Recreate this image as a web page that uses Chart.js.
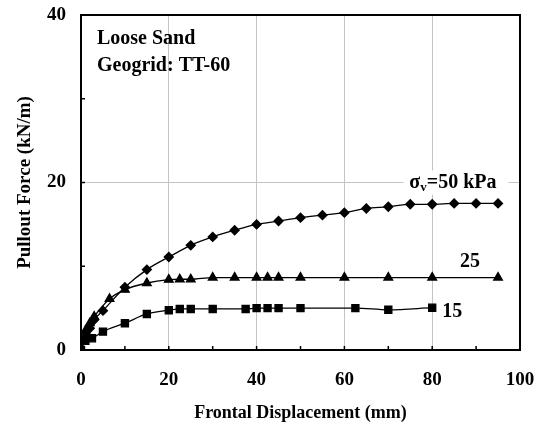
<!DOCTYPE html>
<html lang="en">
<head>
<meta charset="UTF-8">
<title>Pullout Force - Loose Sand</title>
<script src="https://cdn.jsdelivr.net/npm/chart.js"></script>
<style>
    html, body { margin: 0; padding: 0; background: #fff; }
    .chart-container { position: relative; width: 537px; height: 426px; }
</style>
</head>
<body>
<div class="chart-container">
    <canvas id="myChart"></canvas>
</div>
<script>
    // displacement (mm) and pullout force (kN/m)
    const disp50 = [0, 1, 2, 3, 5, 10, 15, 20, 25, 30, 35, 40, 45, 50, 55, 60, 65, 70, 75, 80, 85, 90, 95];
    const force50 = [0, 1.6, 2.6, 3.6, 4.7, 7.5, 9.6, 11.1, 12.5, 13.5, 14.3, 15.0, 15.4, 15.8, 16.1, 16.4, 16.9, 17.1, 17.4, 17.4, 17.5, 17.5, 17.5];

    const disp25 = [0, 1, 2, 3, 6.5, 10, 15, 20, 22.5, 25, 30, 35, 40, 42.5, 45, 50, 60, 70, 80, 95];
    const force25 = [0, 2.3, 3.2, 4.0, 6.1, 7.2, 8.0, 8.4, 8.45, 8.45, 8.65, 8.65, 8.65, 8.65, 8.65, 8.65, 8.65, 8.65, 8.65, 8.65];

    const disp15 = [0, 1, 2.5, 5, 10, 15, 20, 22.5, 25, 30, 37.5, 40, 42.5, 45, 50, 62.5, 70, 80];
    const force15 = [0, 1.1, 1.4, 2.2, 3.2, 4.3, 4.75, 4.9, 4.9, 4.9, 4.9, 5.0, 5.0, 5.0, 5.0, 5.0, 4.8, 5.05];

    const xTicks = [0, 20, 40, 60, 80, 100];
    const yTicks = [0, 20, 40];

    const FONT = '"Liberation Serif", "Times New Roman", serif';

    const toPoints = (xs, ys) => xs.map((x, i) => ({ x: x, y: ys[i] }));

    // frame, inside minor ticks and the text notes
    const extrasPlugin = {
        id: 'extras',
        beforeDatasetsDraw(chart) {
            const c = chart.ctx;
            const a = chart.chartArea;
            const xs = chart.scales.x;
            const ys = chart.scales.y;

            c.save();
            c.strokeStyle = '#000';
            c.lineWidth = 1.5;
            c.beginPath();
            for (let v = 10; v < 100; v += 10) {
                const px = xs.getPixelForValue(v);
                c.moveTo(px, a.bottom);
                c.lineTo(px, a.bottom - 4);
            }
            for (let v = 10; v < 40; v += 10) {
                const py = ys.getPixelForValue(v);
                c.moveTo(a.left, py);
                c.lineTo(a.left + 4, py);
            }
            c.stroke();

            c.lineWidth = 2;
            c.strokeRect(a.left, a.top, a.right - a.left, a.bottom - a.top);

            // notes
            c.fillStyle = '#000';
            c.textBaseline = 'middle';
            c.textAlign = 'left';
            c.font = 'bold 20px ' + FONT;
            c.fillText('Loose Sand', a.left + 16, a.top + 24);
            c.fillText('Geogrid: TT-60', a.left + 16, a.top + 51);

            // sigma label with white box over the grid line
            const sx = xs.getPixelForValue(74.8);
            const sy = ys.getPixelForValue(20);
            c.font = 'bold 20px ' + FONT;
            const w1 = c.measureText('σ').width;
            c.font = 'bold 13px ' + FONT;
            const w2 = c.measureText('v').width;
            c.font = 'bold 20px ' + FONT;
            const w3 = c.measureText('=50 kPa').width;
            c.fillStyle = '#fff';
            c.fillRect(sx - 6, sy - 12, w1 + w2 + w3 + 18, 24);
            c.fillStyle = '#000';
            c.fillText('σ', sx, sy);
            c.font = 'bold 13px ' + FONT;
            c.fillText('v', sx + w1, sy + 5);
            c.font = 'bold 20px ' + FONT;
            c.fillText('=50 kPa', sx + w1 + w2, sy);

            c.textAlign = 'center';
            c.fillText('25', xs.getPixelForValue(88.6), ys.getPixelForValue(10.5));
            c.textAlign = 'left';
            c.fillText('15', xs.getPixelForValue(82.3), ys.getPixelForValue(4.6));
            c.restore();
        }
    };

    const lineStyle = {
        borderColor: '#000',
        backgroundColor: '#000',
        borderWidth: 1.3,
        cubicInterpolationMode: 'monotone',
        fill: false
    };

    const config = {
        type: 'line',
        data: {
            datasets: [
                Object.assign({ label: '50 kPa', data: toPoints(disp50, force50), pointStyle: 'rectRot', pointRadius: 4.5 }, lineStyle),
                Object.assign({ label: '25 kPa', data: toPoints(disp25, force25), pointStyle: 'triangle', pointRadius: 5 }, lineStyle),
                Object.assign({ label: '15 kPa', data: toPoints(disp15, force15), pointStyle: 'rect', pointRadius: 5 }, lineStyle)
            ]
        },
        options: {
            animation: false,
            responsive: true,
            maintainAspectRatio: false,
            events: [],
            layout: { padding: { top: 15, right: 17, left: 0, bottom: 0 } },
            plugins: {
                legend: { display: false },
                tooltip: { enabled: false }
            },
            scales: {
                x: {
                    type: 'linear',
                    min: 0,
                    max: 100,
                    afterBuildTicks: (s) => { s.ticks = xTicks.map(v => ({ value: v })); },
                    afterFit: (s) => { s.height = 76; s.paddingLeft = 0; s.paddingRight = 0; },
                    ticks: { color: '#000', font: { family: FONT, size: 19, weight: 'bold' }, padding: 19, maxRotation: 0 },
                    grid: {
                        drawTicks: false,
                        color: (ctx) => (ctx.tick && (ctx.tick.value === 0 || ctx.tick.value === 100)) ? 'rgba(0,0,0,0)' : '#c4c4c4',
                        lineWidth: 1
                    },
                    border: { display: false },
                    title: {
                        display: true,
                        text: 'Frontal Displacement (mm)',
                        color: '#000',
                        font: { family: FONT, size: 18, weight: 'bold' },
                        padding: { top: 0, bottom: 2 }
                    }
                },
                y: {
                    type: 'linear',
                    min: 0,
                    max: 40,
                    afterBuildTicks: (s) => { s.ticks = yTicks.map(v => ({ value: v })); },
                    afterFit: (s) => { s.width = 81; s.paddingTop = 0; s.paddingBottom = 0; },
                    ticks: { color: '#000', font: { family: FONT, size: 19, weight: 'bold' }, padding: 15 },
                    grid: {
                        drawTicks: false,
                        color: (ctx) => (ctx.tick && (ctx.tick.value === 0 || ctx.tick.value === 40)) ? 'rgba(0,0,0,0)' : '#c4c4c4',
                        lineWidth: 1
                    },
                    border: { display: false },
                    title: {
                        display: true,
                        text: 'Pullout Force (kN/m)',
                        color: '#000',
                        font: { family: FONT, size: 19, weight: 'bold' },
                        padding: { top: 14, bottom: 0 }
                    }
                }
            }
        },
        plugins: [extrasPlugin]
    };

    const ctx = document.getElementById('myChart');
    var chart = new Chart(ctx, config);
</script>
</body>
</html>
